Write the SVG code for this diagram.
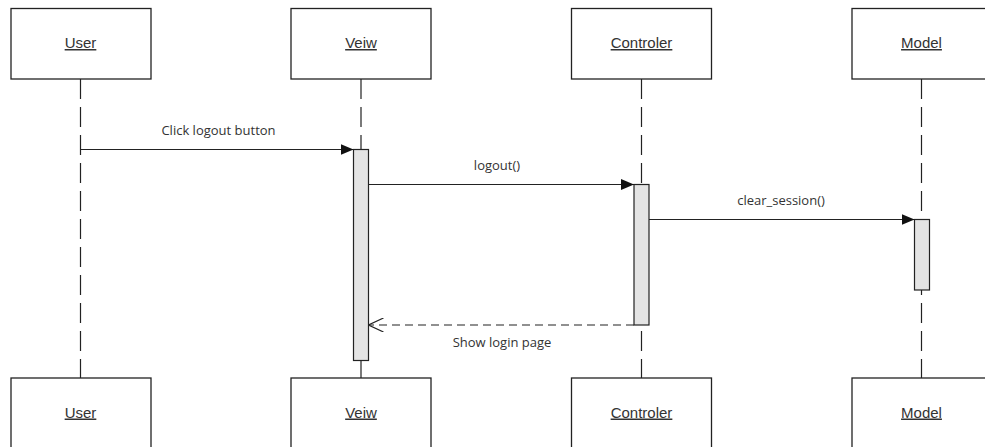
<svg xmlns="http://www.w3.org/2000/svg" width="985" height="447" viewBox="0 0 985 447">
  <style>
    .box { fill: #ffffff; stroke: #222222; stroke-width: 1.3; }
    .name { font-family: "Liberation Sans", Arial, sans-serif; font-size: 15px; fill: #333333; text-anchor: middle; text-decoration: underline; }
    .life { stroke: #222222; stroke-width: 1.2; stroke-dasharray: 20 8; fill: none; }
    .act { fill: #e4e4e4; stroke: #222222; stroke-width: 1.2; }
    .msg { stroke: #222222; stroke-width: 1.2; fill: none; }
    .ret { stroke: #222222; stroke-width: 1.2; fill: none; stroke-dasharray: 8 5; }
    .lbl { font-family: "Open Sans", "Noto Sans", sans-serif; font-size: 13px; fill: #333333; text-anchor: middle; }
  </style>
  <defs>
    <marker id="solidHead" markerWidth="14" markerHeight="12" refX="13" refY="6" orient="auto" markerUnits="userSpaceOnUse">
      <path d="M0,0.5 L13,6 L0,11.5 Z" fill="#111111"/>
    </marker>
    <marker id="openHead" markerWidth="16" markerHeight="14" refX="15" refY="7" orient="auto" markerUnits="userSpaceOnUse">
      <path d="M0,0 L15,7 L0,14" fill="none" stroke="#222222" stroke-width="1.2"/>
    </marker>
  </defs>

  <!-- lifelines -->
  <g id="lifelines">
    <line class="life" x1="80.5" y1="79" x2="80.5" y2="378"/>
    <line class="life" x1="361" y1="79" x2="361" y2="378"/>
    <line class="life" x1="641.5" y1="79" x2="641.5" y2="378"/>
    <line class="life" x1="921.5" y1="79" x2="921.5" y2="378"/>
  </g>

  <!-- participants, head boxes -->
  <g id="user-top">
    <rect class="box" x="11" y="8.5" width="140" height="70.5"/>
    <text class="name" x="80.5" y="48">User</text>
  </g>
  <g id="view-top">
    <rect class="box" x="291" y="8.5" width="140" height="70.5"/>
    <text class="name" x="361" y="48">Veiw</text>
  </g>
  <g id="controller-top">
    <rect class="box" x="571.5" y="8.5" width="140" height="70.5"/>
    <text class="name" x="641.5" y="48">Controler</text>
  </g>
  <g id="model-top">
    <rect class="box" x="852" y="8.5" width="140" height="70.5"/>
    <text class="name" x="921.5" y="48">Model</text>
  </g>

  <!-- participants, foot boxes -->
  <g id="user-bottom">
    <rect class="box" x="11" y="378" width="140" height="80"/>
    <text class="name" x="80.5" y="417.5">User</text>
  </g>
  <g id="view-bottom">
    <rect class="box" x="291" y="378" width="140" height="80"/>
    <text class="name" x="361" y="417.5">Veiw</text>
  </g>
  <g id="controller-bottom">
    <rect class="box" x="571.5" y="378" width="140" height="80"/>
    <text class="name" x="641.5" y="417.5">Controler</text>
  </g>
  <g id="model-bottom">
    <rect class="box" x="852" y="378" width="140" height="80"/>
    <text class="name" x="921.5" y="417.5">Model</text>
  </g>

  <!-- activation bars -->
  <g id="activations">
    <rect class="act" x="353.5" y="149.5" width="15" height="211"/>
    <rect class="act" x="634" y="184.5" width="15" height="140.5"/>
    <rect class="act" x="914.5" y="219.5" width="15" height="70.5"/>
  </g>

  <!-- messages -->
  <g id="connectors">
    <line class="msg" x1="80.5" y1="149.5" x2="353.5" y2="149.5" marker-end="url(#solidHead)"/>
    <text class="lbl" x="218.5" y="135">Click logout button</text>

    <line class="msg" x1="368.5" y1="184.5" x2="634" y2="184.5" marker-end="url(#solidHead)"/>
    <text class="lbl" x="497" y="170">logout()</text>

    <line class="msg" x1="649" y1="219.5" x2="914.5" y2="219.5" marker-end="url(#solidHead)"/>
    <text class="lbl" x="781" y="205">clear_session()</text>

    <line class="ret" x1="634" y1="325" x2="368.5" y2="325" marker-end="url(#openHead)"/>
    <text class="lbl" x="502" y="346.5">Show login page</text>
  </g>
</svg>
